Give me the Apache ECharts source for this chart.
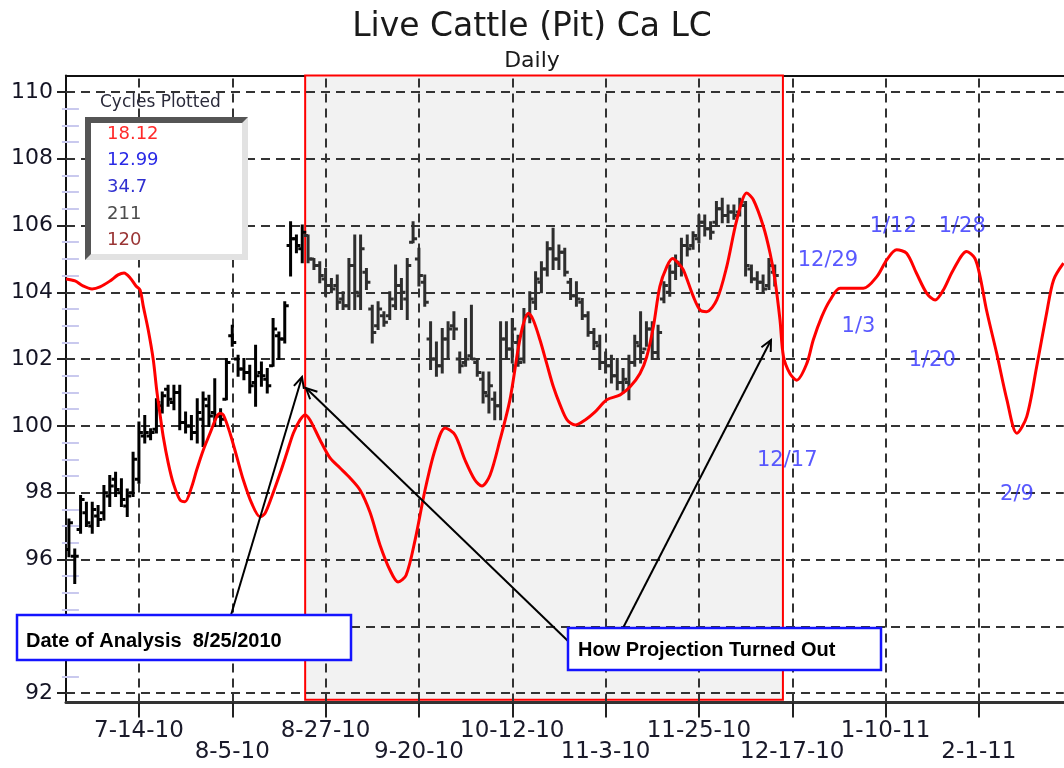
<!DOCTYPE html>
<html>
<head>
<meta charset="utf-8">
<script src="https://cdn.jsdelivr.net/npm/echarts@6/dist/echarts.min.js"></script>
<style>
  html, body { margin: 0; padding: 0; background: #ffffff; }
  #chart { width: 1064px; height: 768px; }
</style>
</head>
<body>
<div id="chart"></div>
<script>
// ---------------- DATA ----------------
const START_DATE = [2010, 5, 28];          // first bar: Mon 6-28-10 (weekday bars)
const N_BARS = 171;                        // weekdays shown on the axis
const X_TICK_LABELS = ['7-14-10','8-5-10','8-27-10','9-20-10','10-12-10','11-3-10','11-25-10','12-17-10','1-10-11','2-1-11'];
const Y_TICKS = [92, 94, 96, 98, 100, 102, 104, 106, 108, 110];

// OHLC price bars (index = weekday bar from 6-28-10)
const OPEN = [96.3,96.1,96.9,97.4,97.0,97.3,97.4,97.9,98.4,98.0,97.6,98.0,98.4,99.7,99.7,99.9,100.6,101.1,100.7,101.0,
  100.1,100.0,99.8,100.2,100.6,100.4,100.3,100.8,102.7,102.0,101.7,101.6,101.3,101.6,101.4,101.8,102.7,102.6,105.4,105.6,
  105.3,105.7,105.0,104.8,104.4,104.2,104.2,103.8,103.6,104.8,103.9,104.6,103.5,103.0,103.3,103.3,103.6,104.2,103.8,105.5,
  105.0,104.3,102.6,102.0,101.8,102.6,103.0,102.0,101.9,102.1,101.9,101.4,100.9,100.8,100.6,102.6,102.3,102.5,102.0,103.3,
  103.7,104.3,104.7,105.3,105.0,105.2,104.3,103.9,103.7,103.3,102.8,102.4,101.9,101.8,101.5,101.3,101.3,101.9,102.4,102.3,
  102.9,102.2,103.8,104.0,104.6,104.8,105.4,105.4,105.6,106.1,105.9,106.1,106.5,106.3,106.4,106.4,106.6,104.7,104.4,104.3,
  104.2,104.6];
const HIGH = [97.2,96.3,97.9,97.7,97.7,97.6,98.2,98.5,98.6,98.4,98.1,99.2,100.1,100.3,99.9,100.8,101.0,101.2,101.2,101.2,
  100.4,100.3,100.8,101.0,100.9,101.4,100.5,102.0,103.0,102.1,102.0,101.8,102.4,101.9,101.7,103.2,102.8,103.7,106.1,105.7,
  106.0,105.7,105.0,104.9,104.7,104.4,104.5,104.0,105.0,105.7,105.7,104.7,103.6,103.7,103.4,104.0,104.8,104.4,105.0,106.1,
  105.3,104.5,103.1,102.5,102.9,103.1,103.4,102.2,103.2,103.6,102.0,101.6,101.6,101.0,103.1,103.1,103.2,102.7,103.5,104.0,
  104.6,104.9,105.5,105.9,105.4,105.3,104.4,104.3,103.8,103.4,102.9,102.7,102.2,102.1,102.0,101.7,102.1,102.7,103.4,103.1,
  103.1,103.0,104.3,104.8,105.1,105.6,105.7,105.8,106.3,106.3,106.1,106.7,106.8,106.6,106.6,106.8,106.7,104.8,104.6,104.5,
  105.0,104.8];
const LOW = [96.1,95.3,96.8,97.0,96.8,97.0,97.2,97.6,97.9,97.6,97.3,97.9,98.3,99.5,99.6,99.8,100.4,100.6,100.5,99.9,
  99.8,99.6,99.5,99.4,100.0,100.0,100.0,100.8,102.4,101.5,101.4,101.0,100.6,101.2,101.0,101.8,102.0,102.5,104.5,105.2,
  104.9,104.9,104.7,104.3,103.9,104.0,103.5,103.5,103.5,103.5,103.5,104.1,102.5,102.9,103.0,103.2,103.5,103.5,103.2,105.5,
  104.2,103.6,101.7,101.5,101.6,102.0,102.6,101.6,101.8,102.0,101.5,100.7,100.4,100.2,100.2,102.0,101.9,101.8,101.9,103.1,
  103.5,104.0,104.5,104.7,104.7,104.5,103.8,103.6,103.2,102.7,102.3,101.7,101.6,101.3,101.1,101.0,100.8,101.8,101.9,102.4,
  102.0,102.0,103.7,103.9,104.4,104.5,105.1,105.3,105.5,105.7,105.6,106.0,106.1,106.1,106.2,106.3,104.5,104.3,104.1,104.0,
  104.1,104.2];
const CLOSE = [97.1,96.1,97.8,97.1,97.5,97.2,98.0,98.2,98.1,97.8,97.9,99.0,99.8,99.8,99.8,100.7,100.9,100.8,101.0,100.1,
  100.0,99.8,100.4,100.8,100.3,100.3,100.2,101.9,102.5,101.7,101.6,101.2,101.5,101.5,101.2,102.9,102.6,103.6,105.6,105.4,
  105.8,105.0,104.8,104.5,104.2,104.1,103.7,103.6,104.8,104.0,105.3,104.3,102.8,103.5,103.1,103.8,104.2,104.0,104.8,105.6,
  104.5,103.7,102.0,101.8,102.6,102.9,102.9,101.8,102.0,102.0,101.6,101.0,101.2,100.6,102.6,102.3,102.9,101.9,103.3,103.8,
  104.4,104.7,105.3,105.0,105.2,104.6,103.9,103.8,103.3,102.8,102.5,101.9,101.8,101.5,101.3,101.4,101.9,102.5,102.2,102.9,
  102.2,102.8,104.2,104.6,104.9,105.4,105.3,105.7,106.1,105.9,105.8,106.5,106.3,106.4,106.3,106.7,104.8,104.4,104.3,104.1,
  104.8,104.5];

// Projected cycle composite (x in bar units, y in price)
const CYCLE_X = [-0.5,1.05,2.4,3.96,5.33,7.05,8.42,9.45,10.5,11.5,12.2,12.76,13.6,14.47,15.05,15.6,16.18,17.04,17.9,19.05,
  19.9,21.05,21.9,23.04,24.19,25.34,25.9,26.47,27.62,28.77,29.9,31.34,32.76,33.6,34.77,36.2,37.34,38.47,39.62,40.48,
  41.33,43.05,44.76,46.48,48.2,49.9,51.6,53.34,55.05,56.42,57.8,59.34,61.05,62.76,64.5,66.19,67.9,69.6,70.8,72.2,
  73.9,75.6,76.98,77.85,78.76,79.6,80.76,81.9,83.05,84.2,85.4,86.8,88.5,90.2,92.2,94.5,96.2,97.9,99.05,100.19,
  101.3,102.5,103.5,104.47,105.33,107.05,108.2,109.3,111.06,112.77,114.5,116.2,117.33,119.05,120.2,121.04,121.9,122.5,123.6,124.77,
  126.5,127.6,129.06,130.5,132.2,136.2,138.5,140.2,141.9,143.6,145.3,147.06,148.5,149.9,151.6,153.9,155.3,156.2,157.3,159.05,
  160.8,162.5,164.2,165.9,167.6,168.8,170.5];
const CYCLE_Y = [104.40,104.34,104.19,104.10,104.16,104.34,104.52,104.58,104.43,104.19,104.07,103.57,102.87,101.97,101.07,100.37,99.67,98.88,98.28,97.78,
  97.73,98.18,98.68,99.28,99.78,100.28,100.37,100.33,99.78,99.08,98.38,97.68,97.28,97.38,97.88,98.58,99.18,99.78,100.18,100.33,
  100.18,99.58,99.04,98.74,98.44,98.08,97.42,96.43,95.68,95.33,95.53,96.58,98.08,99.28,99.94,99.73,98.98,98.38,98.20,98.53,
  99.58,100.78,102.27,103.02,103.37,103.17,102.57,101.87,101.17,100.63,100.18,100.03,100.18,100.42,100.78,100.93,101.17,101.57,102.07,102.97,
  104.17,104.77,105.01,104.87,104.67,103.87,103.47,103.42,103.77,104.77,106.17,106.97,106.77,105.97,105.17,104.37,103.17,102.07,101.57,101.37,
  101.87,102.57,103.27,103.77,104.12,104.12,104.47,104.97,105.27,105.17,104.57,103.97,103.77,104.07,104.67,105.22,105.02,104.47,103.47,102.17,
  100.78,99.78,100.28,101.77,103.37,104.37,104.87];

// Turning-point date labels of the projection
const TURN_DATES = ['12-17-10','12-29-10','1-3-11','1-12-11','1-20-11','1-28-11','2-9-11'];
const TURN_TEXT  = ['12/17','12/29','1/3','1/12','1/20','1/28','2/9'];
const TURN_LABEL_Y = [98.95, 104.94, 102.96, 105.96, 101.97, 105.96, 97.96];

// Cycles plotted panel
const CYCLE_LENGTHS = ['18.12','12.99','34.7','211','120'];
const CYCLE_COLORS  = ['#ff2a2a','#2a2ae6','#3030d0','#4c4c4c','#9a3535'];

// Analysis window (bar units)
const SHADE_START = 40.5;
const SHADE_END = 122.4;
const ANALYSIS_BAR = 41;

// ---------------- BUILD ----------------
function weekdayLabels(start, n) {
  const out = [];
  const d = new Date(Date.UTC(start[0], start[1], start[2]));
  while (out.length < n) {
    const wd = d.getUTCDay();
    if (wd !== 0 && wd !== 6) {
      out.push((d.getUTCMonth() + 1) + '-' + d.getUTCDate() + '-' + String(d.getUTCFullYear()).slice(2));
    }
    d.setUTCDate(d.getUTCDate() + 1);
  }
  return out;
}
const CATEGORIES = weekdayLabels(START_DATE, N_BARS);
const X_TICK_IDX = X_TICK_LABELS.map(l => CATEGORIES.indexOf(l));
const TURN_IDX = TURN_DATES.map(l => CATEGORIES.indexOf(l));

const ohlc = OPEN.map((o, i) => [i, o, HIGH[i], LOW[i], CLOSE[i]]);
const cycleLine = CYCLE_X.map((x, i) => [x, CYCLE_Y[i]]);
const LABEL_DX = [-5, -11, 2, -4, 0, -5, 3];
const turnLabels = TURN_IDX.map((ix, k) => ({
  value: [ix, TURN_LABEL_Y[k]], name: TURN_TEXT[k],
  label: { offset: [LABEL_DX[k], 0] }
}));

const minorTicks = [];
for (let v = 92; v <= 110.5; v += 0.5) { if (v % 2 !== 0) minorTicks.push(v); }

const FONT = '"DejaVu Sans", Verdana, sans-serif';
const YMIN = 91.72, YMAX = 110.49;

const chart = echarts.init(document.getElementById('chart'), null, { renderer: 'canvas' });

function arrow(x1, y1, x2, y2) {
  const ang = Math.atan2(y2 - y1, x2 - x1), L = 12, a = 0.45;
  const p1 = [x2 - L * Math.cos(ang - a), y2 - L * Math.sin(ang - a)];
  const p2 = [x2 - L * Math.cos(ang + a), y2 - L * Math.sin(ang + a)];
  return [
    { type: 'line', z: 100, shape: { x1, y1, x2, y2 }, style: { stroke: '#000', lineWidth: 2 } },
    { type: 'polyline', z: 100, shape: { points: [p1, [x2, y2], p2] }, style: { stroke: '#000', lineWidth: 2, fill: null } }
  ];
}

const graphics = [
  { type: 'text', z: 100, x: 100, y: 103, style: { text: 'Cycles Plotted', font: '17px ' + FONT, fill: '#2a2a3a', textVerticalAlign: 'middle' } },
  { type: 'rect', z: 100, shape: { x: 85, y: 117, width: 163, height: 143 }, style: { fill: '#e2e2e2' } },
  { type: 'polygon', z: 100, shape: { points: [[85,117],[248,117],[242,123],[91,123],[91,254],[85,260]] }, style: { fill: '#555555' } },
  { type: 'rect', z: 100, shape: { x: 91, y: 123, width: 151, height: 131 }, style: { fill: '#ffffff' } }
];
CYCLE_LENGTHS.forEach((t, k) => {
  graphics.push({ type: 'text', z: 101, x: 107, y: 134 + k * 26.7,
    style: { text: t, font: '18px ' + FONT, fill: CYCLE_COLORS[k], textVerticalAlign: 'middle' } });
});
graphics.push(...arrow(231, 615, 302, 377));
graphics.push(...arrow(568, 641, 306, 388));
graphics.push(...arrow(623, 628, 771, 340));
graphics.push(
  { type: 'rect', z: 102, shape: { x: 17, y: 615, width: 334, height: 45 }, style: { fill: '#fff', stroke: '#1414ff', lineWidth: 2.5 } },
  { type: 'text', z: 103, x: 26, y: 641, style: { text: 'Date of Analysis  8/25/2010', font: 'bold 20px "Liberation Sans", Arial, sans-serif', fill: '#000', textVerticalAlign: 'middle' } },
  { type: 'rect', z: 102, shape: { x: 568, y: 628, width: 313, height: 42 }, style: { fill: '#fff', stroke: '#1414ff', lineWidth: 2.5 } },
  { type: 'text', z: 103, x: 578, y: 650, style: { text: 'How Projection Turned Out', font: 'bold 20px "Liberation Sans", Arial, sans-serif', fill: '#000', textVerticalAlign: 'middle' } }
);

const gridLineStyle = { type: [9, 6], color: '#333333', width: 2 };

const option = {
  animation: false,
  backgroundColor: '#ffffff',
  title: {
    text: 'Live Cattle (Pit) Ca LC',
    subtext: 'Daily',
    left: 'center',
    top: 6,
    itemGap: 6,
    textStyle: { fontFamily: FONT, fontSize: 33, fontWeight: 'normal', color: '#1a1a1a' },
    subtextStyle: { fontFamily: FONT, fontSize: 22, color: '#1a1a1a' }
  },
  grid: { left: 66, top: 75.5, width: 997.5, height: 627, containLabel: false, outerBoundsMode: 'none' },
  xAxis: [
    {
      type: 'value', min: -0.5, max: N_BARS - 0.5, position: 'bottom',
      axisLine: { show: true, onZero: false, lineStyle: { color: '#333', width: 3 } },
      axisTick: { show: true, customValues: X_TICK_IDX, length: 15, lineStyle: { color: '#222', width: 2 } },
      axisLabel: {
        show: true, customValues: X_TICK_IDX, margin: 18, lineHeight: 21,
        fontFamily: FONT, fontSize: 23, color: '#1a1a2a',
        formatter: (v) => { const k = X_TICK_IDX.indexOf(Math.round(v)); if (k < 0) return ''; return (k % 2 ? '\n' : '') + X_TICK_LABELS[k]; }
      },
      splitLine: { show: false }
    },
    {
      type: 'value', min: -0.5, max: N_BARS - 0.5, position: 'top',
      axisLine: { show: true, onZero: false, lineStyle: { color: '#111', width: 2 } },
      axisTick: { show: false }, axisLabel: { show: false }, splitLine: { show: false }
    }
  ],
  yAxis: [
    {
      type: 'value', min: YMIN, max: YMAX, position: 'left',
      axisLine: { show: true, onZero: false, lineStyle: { color: '#111', width: 2 } },
      axisTick: { show: true, customValues: Y_TICKS, length: 9, lineStyle: { color: '#222', width: 2 } },
      axisLabel: { show: true, customValues: Y_TICKS, margin: 13, fontFamily: FONT, fontSize: 22, color: '#141424' },
      splitLine: { show: false }
    },
    {
      type: 'value', min: YMIN, max: YMAX, position: 'left',
      axisLine: { show: false },
      axisTick: { show: true, inside: true, customValues: minorTicks, length: 10, lineStyle: { color: '#c9c9ee', width: 2 } },
      axisLabel: { show: false }, splitLine: { show: false }
    },
    {
      type: 'value', min: YMIN, max: YMAX, position: 'right',
      axisLine: { show: false },
      axisTick: { show: true, inside: true, customValues: minorTicks, length: 7, lineStyle: { color: '#c9c9ee', width: 2 } },
      axisLabel: { show: false }, splitLine: { show: false }
    },
    {
      type: 'value', min: YMIN, max: YMAX, position: 'right',
      axisLine: { show: false },
      axisTick: { show: true, inside: true, customValues: Y_TICKS, length: 6, lineStyle: { color: '#222', width: 2 } },
      axisLabel: { show: false }, splitLine: { show: false }
    }
  ],
  graphic: graphics,
  series: [
    {
      name: 'frame', type: 'line', data: [], xAxisIndex: 0, yAxisIndex: 0, silent: true,
      markArea: {
        silent: true, z: 1,
        itemStyle: { color: '#f2f2f2', borderColor: '#ff0000', borderWidth: 2 },
        label: { show: false },
        data: [[{ xAxis: SHADE_START, yAxis: 91.8 }, { xAxis: SHADE_END, yAxis: YMAX }]]
      },
      markLine: {
        silent: true, z: 2, symbol: 'none', animation: false,
        label: { show: false },
        lineStyle: gridLineStyle,
        data: Y_TICKS.map(v => ({ yAxis: v })).concat(X_TICK_IDX.map(i => ({ xAxis: i })))
      }
    },
    {
      name: 'Price', type: 'custom', z: 10, xAxisIndex: 0, yAxisIndex: 0, clip: true,
      data: ohlc,
      encode: { x: 0, y: [1, 2, 3, 4] },
      renderItem: (params, api) => {
        const i = api.value(0);
        const o = api.coord([i, api.value(1)]);
        const h = api.coord([i, api.value(2)]);
        const l = api.coord([i, api.value(3)]);
        const c = api.coord([i, api.value(4)]);
        const col = i >= ANALYSIS_BAR ? '#2e2e2e' : '#000000';
        const st = { stroke: col, lineWidth: 3 };
        return { type: 'group', children: [
          { type: 'line', shape: { x1: h[0], y1: h[1] - 1, x2: l[0], y2: l[1] + 1 }, style: st },
          { type: 'line', shape: { x1: o[0] - 4, y1: o[1], x2: o[0], y2: o[1] }, style: st },
          { type: 'line', shape: { x1: c[0], y1: c[1], x2: c[0] + 4, y2: c[1] }, style: st }
        ] };
      }
    },
    {
      name: 'Cycle', type: 'line', z: 11, xAxisIndex: 0, yAxisIndex: 0, clip: true,
      data: cycleLine, showSymbol: false, smooth: 0.3,
      lineStyle: { color: '#ff0000', width: 3 }
    },
    {
      name: 'Turns', type: 'scatter', z: 12, xAxisIndex: 0, yAxisIndex: 0, clip: false,
      data: turnLabels, symbolSize: 0,
      label: { show: true, position: 'inside', formatter: p => p.name, fontFamily: FONT, fontSize: 21, color: '#2f2fff' }
    }
  ]
};
chart.setOption(option);
</script>
</body>
</html>
